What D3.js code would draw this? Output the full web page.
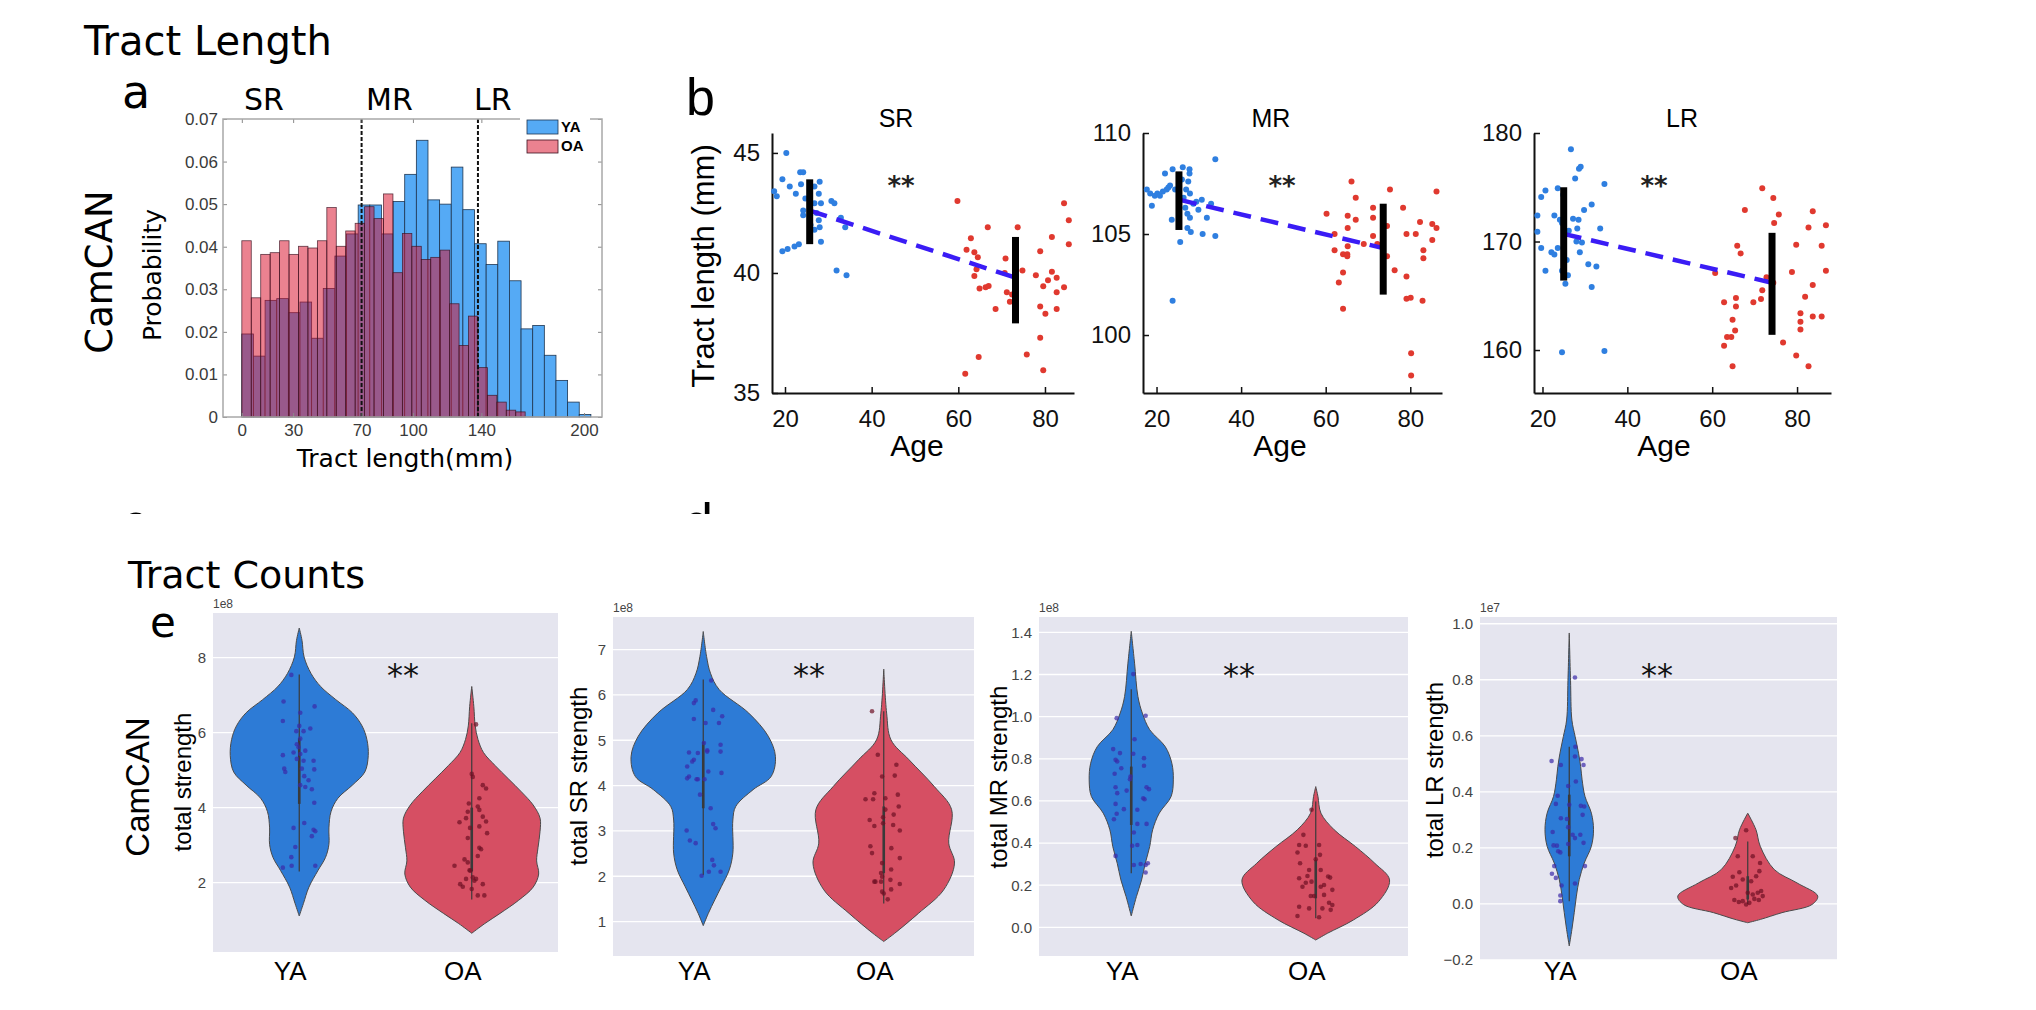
<!DOCTYPE html>
<html>
<head>
<meta charset="utf-8">
<title>Tract Length / Tract Counts</title>
<script src="https://cdn.jsdelivr.net/npm/d3@7"></script>
<style>
  body { margin: 0; background: #fff; }
  svg { display: block; }
</style>
</head>
<body>
<div id="chart"></div>
<script>
// ---------- panel a : tract length histogram ----------
const yaBinEdges = [0, 6.8, 13.6, 20.4, 27.2, 34, 40.8, 47.6, 54.4, 61.2, 68, 74.8, 81.6, 88.4, 95.2, 102,
  108.8, 115.6, 122.4, 129.2, 136, 142.8, 149.6, 156.4, 163.2, 170, 176.8, 183.6, 190.4, 197.2, 204];
const oaBinEdges = [0, 5.52, 11.04, 16.56, 22.08, 27.6, 33.12, 38.64, 44.16, 49.68, 55.2, 60.72, 66.24, 71.76,
  77.28, 82.8, 88.32, 93.84, 99.36, 104.88, 110.4, 115.92, 121.44, 126.96, 132.48, 138, 143.52, 149.04,
  154.56, 160.08, 165.6];
const histYA = [0.0195, 0.0143, 0.0274, 0.0278, 0.0245, 0.0270, 0.0185, 0.0302, 0.0378, 0.0430, 0.0498, 0.0498,
  0.0430, 0.0506, 0.0570, 0.0650, 0.0510, 0.0500, 0.0587, 0.0487, 0.0407, 0.0358, 0.0413, 0.0320, 0.0207,
  0.0215, 0.0145, 0.0086, 0.0035, 0.0006];
const histOA = [0.0414, 0.0280, 0.0382, 0.0386, 0.0414, 0.0382, 0.0401, 0.0397, 0.0414, 0.0492, 0.0401, 0.0437,
  0.0455, 0.0494, 0.0466, 0.0524, 0.0339, 0.0431, 0.0401, 0.0370, 0.0375, 0.0392, 0.0266, 0.0168, 0.0237,
  0.0116, 0.0051, 0.0035, 0.0016, 0.0012];
const histXTicks = [0, 30, 70, 100, 140, 200];
const histYTicks = [0, 0.01, 0.02, 0.03, 0.04, 0.05, 0.06, 0.07];
const tractSplits = [70, 138];

// ---------- panel b : tract length vs age ----------
const ageTicks = [20, 40, 60, 80];
const srTicks = [35, 40, 45];
const mrTicks = [100, 105, 110];
const lrTicks = [160, 170, 180];

const srYA = [[20.3,45.0],[19.4,43.9],[21.1,43.6],[23.5,44.2],[24.2,44.2],[22.5,43.3],[23.7,43.7],[24.7,43.1],
  [24.2,42.6],[24.2,42.4],[26.8,43.6],[28.0,43.8],[27.8,43.3],[28.3,42.9],[27.3,42.5],[27.8,42.2],[28.0,41.9],
  [28.3,41.3],[26.8,41.8],[30.7,43.0],[31.4,42.9],[32.9,42.3],[33.9,41.9],[31.9,40.1],[34.2,39.9],[19.4,40.9],
  [20.6,41.0],[22.2,41.1],[23.2,41.2],[17.5,43.4],[18.1,43.2],[25.8,42.4],[25.9,42.0],[26.8,42.9]];
const srOA = [[59.8,43.0],[62.9,41.45],[61.9,40.97],[63.7,40.86],[64.5,40.65],[66.8,41.9],[64.2,40.15],[63.7,39.87],
  [64.9,39.35],[66.3,39.4],[67.0,39.46],[68.6,38.5],[70.9,40.6],[70.7,40.0],[71.2,39.2],[71.9,38.8],[72.4,39.1],
  [73.7,41.9],[74.8,40.1],[77.9,39.9],[78.9,40.9],[79.6,39.45],[80.7,39.7],[80.1,38.3],[78.9,38.6],[78.9,37.3],
  [75.8,36.6],[64.7,36.5],[61.6,35.8],[79.6,35.95],[81.6,41.5],[81.6,40.05],[82.7,39.8],[82.7,39.2],[82.7,38.5],
  [84.4,42.9],[85.5,42.2],[85.5,41.2],[84.4,39.4]];
const mrYA = [[17.7,107.2],[18.5,107.0],[18.9,106.4],[19.6,106.9],[20.2,107.0],[20.8,106.9],[21.5,107.1],[22.0,108.0],
  [22.4,107.2],[22.8,107.3],[23.2,107.4],[23.6,105.7],[23.8,108.2],[23.8,101.7],[24.4,107.2],[25.6,104.6],
  [26.0,107.7],[26.2,108.3],[26.4,106.8],[26.8,106.3],[27.3,106.0],[27.3,105.3],[27.8,108.2],[27.8,108.0],
  [27.9,107.0],[27.9,105.8],[28.1,105.1],[28.7,106.5],[29.4,106.6],[29.9,106.2],[30.7,106.7],[30.9,105.0],
  [31.9,105.8],[32.9,106.5],[33.9,108.7],[33.9,104.9],[27.5,107.6],[27.0,107.2]];
const mrOA = [[60.2,106.0],[62.1,105.0],[62.1,104.2],[63.1,102.6],[64.1,104.0],[64.1,103.1],[64.1,101.3],[65.1,104.0],
  [65.1,103.9],[65.2,105.9],[65.2,105.3],[65.2,104.4],[66.1,107.6],[67.1,106.8],[67.1,105.7],[69.0,104.5],
  [71.2,106.3],[71.2,105.8],[71.2,104.9],[72.2,104.5],[74.5,105.4],[74.5,103.9],[75.2,107.2],[76.3,103.2],
  [78.3,106.3],[79.1,105.0],[79.1,102.9],[79.1,101.8],[80.1,101.85],[80.2,99.1],[80.2,98.0],[81.3,105.0],
  [82.3,105.6],[82.9,101.7],[83.1,104.2],[83.1,103.8],[85.2,105.5],[85.2,104.7],[86.2,107.1],[86.2,105.3]];
const lrYA = [[18.8,172.4],[18.8,170.9],[19.7,174.1],[19.7,169.4],[20.7,174.7],[20.7,167.3],[22.1,169.0],[22.8,172.4],
  [22.8,168.8],[23.6,174.9],[23.6,169.4],[24.1,172.0],[24.6,171.7],[24.6,167.3],[25.4,166.1],[26.0,166.9],
  [26.7,178.5],[27.2,172.1],[27.7,175.8],[28.0,170.0],[28.2,171.2],[28.5,172.0],[28.6,176.7],[28.8,169.0],
  [29.0,176.9],[29.3,169.9],[29.8,172.9],[30.8,167.9],[31.6,173.4],[31.6,165.8],[32.7,167.7],[33.6,171.2],
  [34.6,175.3],[34.6,159.9],[24.6,159.8],[26.2,171.0],[25.7,168.3],[24.9,174.3]];
const lrOA = [[60.7,167.1],[62.8,164.4],[62.8,160.4],[63.5,161.2],[64.5,161.2],[64.8,162.8],[64.8,158.5],[65.4,161.8],
  [65.6,164.0],[65.6,164.8],[65.9,169.6],[66.7,168.9],[67.7,172.9],[69.7,164.4],[71.5,164.7],[71.8,174.9],
  [71.8,165.5],[72.8,166.7],[74.4,174.0],[74.6,171.7],[75.7,172.5],[76.7,160.7],[78.8,167.2],[79.8,169.7],
  [79.8,159.5],[80.8,163.4],[80.8,162.6],[80.8,161.9],[81.9,164.9],[82.7,171.3],[82.7,158.5],[83.7,172.8],
  [83.7,166.0],[83.7,163.1],[85.8,169.6],[85.8,163.1],[86.8,171.5],[86.8,167.3],[74.4,166.2]];

// group error bars [age, low, high] and the fitted line [[age, value], [age, value]]
const srErr = [[25.7, 41.2, 43.9], [73.2, 37.9, 41.5]];
const mrErr = [[25.3, 105.2, 108.1], [73.6, 102.0, 106.5]];
const lrErr = [[25.0, 166.4, 175.0], [74.1, 161.4, 170.8]];
const srFit = [[25.7, 42.6], [73.2, 39.8]];
const mrFit = [[25.3, 106.7], [73.6, 104.3]];
const lrFit = [[25.0, 170.7], [74.1, 166.2]];

// ---------- panel e : tract counts violins ----------
const groups = ["YA", "OA"];
const countTicks1 = [2, 4, 6, 8];
const countTicks2 = [1, 2, 3, 4, 5, 6, 7];
const countTicks3 = [0, 0.2, 0.4, 0.6, 0.8, 1.0, 1.2, 1.4];
const countTicks4 = [-0.2, 0, 0.2, 0.4, 0.6, 0.8, 1.0];

// density outlines: [value, relative half width]
const v1YA = [[8.79,0],[8.46,0.04],[8.02,0.07],[7.58,0.17],[7.23,0.31],[6.88,0.53],[6.53,0.77],[6.18,0.91],[5.82,0.98],
  [5.39,1.0],[4.95,0.95],[4.60,0.77],[4.25,0.56],[3.89,0.46],[3.46,0.43],[3.02,0.43],[2.67,0.38],[2.32,0.27],
  [1.88,0.14],[1.44,0.06],[1.11,0]];
const v1OA = [[7.23,0],[6.70,0.03],[6.18,0.05],[5.82,0.09],[5.47,0.17],[5.12,0.34],[4.77,0.53],[4.42,0.72],[4.07,0.89],
  [3.72,0.99],[3.37,0.99],[2.93,0.96],[2.58,0.94],[2.23,0.97],[1.88,0.89],[1.53,0.68],[1.18,0.41],[0.91,0.19],[0.65,0]];
const v2YA = [[7.40,0],[6.85,0.046],[6.48,0.10],[6.12,0.22],[5.60,0.63],[5.09,0.90],[4.64,1.0],[4.20,0.94],[3.91,0.69],
  [3.54,0.45],[3.24,0.41],[2.51,0.41],[2.14,0.36],[1.77,0.25],[1.48,0.16],[1.18,0.07],[0.91,0]];
const v2OA = [[6.57,0],[5.60,0.04],[5.01,0.10],[4.57,0.35],[3.98,0.70],[3.47,0.94],[2.73,0.90],[2.29,0.98],[1.70,0.83],
  [1.18,0.48],[0.74,0.15],[0.56,0]];
const v3YA = [[1.405,0],[1.254,0.045],[1.096,0.09],[1.017,0.15],[0.938,0.25],[0.858,0.46],[0.779,0.55],[0.700,0.57],
  [0.621,0.54],[0.542,0.38],[0.463,0.29],[0.383,0.25],[0.304,0.19],[0.225,0.14],[0.146,0.07],[0.054,0]];
const v3OA = [[0.668,0],[0.621,0.03],[0.542,0.07],[0.463,0.25],[0.383,0.54],[0.304,0.80],[0.225,1.0],[0.122,0.85],
  [0.035,0.51],[-0.028,0.16],[-0.060,0]];
const v4YA = [[0.967,0],[0.798,0.018],[0.656,0.037],[0.597,0.083],[0.538,0.13],[0.490,0.16],[0.443,0.18],[0.384,0.22],
  [0.324,0.31],[0.265,0.34],[0.206,0.31],[0.146,0.21],[0.087,0.14],[0.028,0.10],[-0.031,0.07],[-0.091,0.037],[-0.150,0]];
const v4OA = [[0.324,0],[0.265,0.115],[0.206,0.175],[0.123,0.37],[0.075,0.69],[0.028,0.98],[-0.002,0.90],[-0.031,0.48],
  [-0.055,0.18],[-0.067,0]];

// inner box: [whisker low, q1, q3, whisker high]
const box1 = [[2.3, 4.1, 5.85, 7.55], [1.55, 2.3, 4.0, 6.25]];
const box2 = [[2.03, 3.5, 4.97, 6.34], [1.40, 2.07, 3.54, 5.64]];
const box3 = [[0.257, 0.486, 0.763, 1.13], [0.043, 0.138, 0.32, 0.597]];
const box4 = [[0.01, 0.17, 0.39, 0.561], [0.0, 0.016, 0.099, 0.223]];

// subject values: [value, jitter in category units]
const p1YA = [[7.54,-0.046],[6.83,-0.091],[6.31,-0.095],[6.70,0.089],[6.18,0],[6.04,0.025],[6.04,-0.017],[5.84,0.006],
  [6.11,0.064],[5.40,-0.095],[5.25,0.083],[5.02,0.087],[5.04,-0.087],[4.95,-0.081],[5.69,-0.014],[5.61,-0.004],
  [5.52,0.035],[5.43,0.006],[5.30,-0.014],[5.04,0.015],[4.84,0.029],[4.60,0.006],[4.55,0.035],[4.73,0.054],
  [4.49,0.073],[4.13,0.087],[3.59,0.029],[3.46,-0.033],[3.41,0.083],[3.37,0.093],[3.24,0.073],[2.95,-0.023],
  [2.68,-0.046],[2.45,-0.044],[2.40,-0.095],[2.45,0.093],[6.53,0.006],[5.47,-0.033],[5.25,0.025]];
const p1OA = [[6.22,0.025],[4.90,0],[4.82,0.006],[4.60,0.064],[4.51,0.083],[4.11,-0.017],[4.25,0.044],[4.03,0.035],
  [3.94,0.044],[3.89,-0.023],[3.72,-0.033],[3.76,0.064],[3.63,0.083],[3.61,-0.071],[3.50,0.044],[3.32,0.089],
  [3.46,-0.01],[2.93,0.044],[2.89,0.054],[2.71,0.035],[2.62,-0.042],[2.54,-0.023],[2.45,-0.1],[2.33,-0.013],
  [2.32,-0.008],[2.05,0.015],[2.10,0.025],[2.10,-0.033],[1.96,-0.067],[1.89,-0.052],[1.96,0.064],[1.83,0],
  [1.66,0.073],[2.14,0.006],[1.66,0.035],[3.19,-0.023]];
const p2YA = [[6.32,0.044],[5.88,-0.042],[5.82,-0.052],[5.67,0.055],[5.53,0.105],[5.47,-0.052],[5.38,0.013],[5.38,0.087],
  [4.90,0.096],[4.75,0.096],[4.94,0.004],[4.73,-0.079],[4.72,-0.03],[4.78,0.022],[4.57,-0.052],[4.53,-0.061],
  [4.42,-0.089],[4.31,0.028],[4.20,-0.079],[4.16,-0.089],[4.14,-0.03],[4.14,0.007],[4.14,-0.037],[3.80,-0.018],
  [4.28,0.101],[3.50,0.041],[3.15,0.055],[3.06,0.068],[3.01,-0.092],[2.79,-0.074],[2.73,-0.042],[2.36,0.05],
  [2.24,0.059],[2.10,0.031],[2.10,0.096],[2.01,-0.009],[4.75,0.022]];
const p2OA = [[5.64,-0.065],[4.68,-0.033],[4.20,-0.009],[4.22,0.061],[4.46,0.07],[3.70,-0.101],[3.70,-0.059],[3.83,-0.052],
  [3.72,0.009],[3.80,0.078],[3.54,0.083],[3.47,0.009],[3.30,-0.004],[3.36,0.055],[3.24,-0.078],[3.11,-0.052],
  [3.17,-0.004],[3.13,0.052],[3.01,0.089],[2.66,-0.074],[2.51,-0.065],[2.62,0.042],[2.40,0.089],[2.29,-0.009],
  [2.15,0.041],[2.07,-0.015],[1.99,-0.009],[1.88,-0.052],[1.88,-0.015],[1.92,0.037],[1.83,0.089],[1.71,0.041],
  [1.66,-0.009],[1.62,0],[1.49,0.022],[1.88,-0.046]];
const p3YA = [[1.202,0.011],[0.993,-0.079],[1.004,0.078],[0.893,0.018],[0.846,-0.098],[0.827,-0.061],[0.824,0.011],
  [0.795,-0.085],[0.787,-0.076],[0.803,0.069],[0.767,0.069],[0.755,-0.054],[0.716,-0.004],[0.729,-0.09],[0.703,-0.007],
  [0.665,-0.085],[0.649,-0.025],[0.665,0.083],[0.656,0.096],[0.637,-0.076],[0.613,0.065],[0.608,0.072],[0.586,-0.085],
  [0.561,-0.04],[0.558,0.033],[0.513,-0.094],[0.539,-0.079],[0.491,0.083],[0.491,0.033],[0.450,0.014],[0.391,0.033],
  [0.387,0.005],[0.339,-0.085],[0.296,0.014],[0.301,0.051],[0.296,0.078],[0.304,0.09],[0.260,0.078]];
const p3OA = [[0.558,-0.023],[0.439,-0.067],[0.391,-0.09],[0.391,0.018],[0.387,-0.054],[0.344,0.023],[0.355,-0.099],
  [0.323,0],[0.304,-0.085],[0.272,-0.036],[0.272,0.027],[0.244,-0.045],[0.241,0.067],[0.236,0.078],[0.233,-0.09],
  [0.212,-0.054],[0.217,-0.023],[0.193,0.027],[0.201,0.045],[0.193,-0.072],[0.178,0.09],[0.149,-0.009],[0.154,0.045],
  [0.117,0.072],[0.106,0.09],[0.098,-0.09],[0.090,-0.036],[0.090,0.036],[0.083,0.081],[0.054,-0.099],[0.048,0.018],
  [0.149,-0.027]];
const p4YA = [[0.808,0.032],[0.510,-0.099],[0.496,-0.047],[0.526,0.032],[0.517,0.069],[0.561,0.034],[0.496,0.08],
  [0.437,0.037],[0.421,-0.006],[0.386,-0.065],[0.354,0],[0.357,-0.075],[0.350,0.065],[0.348,0.084],[0.318,0.075],
  [0.306,-0.047],[0.303,-0.013],[0.274,-0.006],[0.257,-0.093],[0.247,0.019],[0.247,0.062],[0.235,0.032],[0.208,-0.069],
  [0.209,-0.088],[0.214,-0.006],[0.218,0.08],[0.184,-0.05],[0.188,-0.062],[0.135,-0.084],[0.108,-0.097],[0.135,0.088],
  [0.093,-0.075],[0.073,0.032],[0.066,-0.043],[0.030,-0.05],[0.010,-0.05]];
const p4OA = [[0.263,-0.009],[0.235,-0.069],[0.170,-0.056],[0.170,0.028],[0.146,0.069],[0.113,-0.047],[0.117,0.065],
  [0.097,-0.084],[0.087,-0.028],[0.081,0.019],[0.099,0.047],[0.057,-0.093],[0.066,-0.065],[0.040,0],[0.034,0.028],
  [0.040,0.056],[0.046,0.075],[0.014,-0.075],[0.007,-0.05],[0.010,-0.028],[0.004,0.009],[0.018,0.037],[0.014,0.062],
  [0.028,0.084],[-0.002,-0.009]];

// ---------------------------------------------------------
const W = 2036, H = 1010;
const SANS = "'Liberation Sans', Arial, sans-serif";
const NARROW = "'Liberation Sans Narrow', 'Liberation Sans', Arial, sans-serif";
const DEJA = "'DejaVu Sans', Verdana, sans-serif";

const svg = d3.select("#chart").append("svg")
  .attr("width", W).attr("height", H)
  .attr("viewBox", `0 0 ${W} ${H}`);
svg.append("rect").attr("width", W).attr("height", H).attr("fill", "#fff");

function label(x, y, s, size, family, anchor) {
  return svg.append("text")
    .attr("x", x).attr("y", y)
    .attr("font-size", size).attr("font-family", family)
    .attr("text-anchor", anchor || "start")
    .attr("fill", "#000").text(s);
}
function vlabel(cx, cy, s, size, family) {
  return svg.append("text")
    .attr("transform", `translate(${cx},${cy}) rotate(-90)`)
    .attr("text-anchor", "middle").attr("dominant-baseline", "central")
    .attr("font-size", size).attr("font-family", family)
    .attr("fill", "#000").text(s);
}

// section titles and letters
label(84, 55, "Tract Length", 40, DEJA);
label(128, 588, "Tract Counts", 38, DEJA);
label(122, 108, "a", 46, DEJA);
label(686, 115, "b", 52, SANS);
label(150, 637, "e", 42, DEJA);

// letters c and d, cut off by the panel above
svg.append("clipPath").attr("id", "cut")
  .append("rect").attr("x", 0).attr("y", 0).attr("width", W).attr("height", 514);
label(122, 540, "c", 52, SANS).attr("clip-path", "url(#cut)");
label(684, 540, "d", 52, SANS).attr("clip-path", "url(#cut)");

// ======================= histogram =======================
const hx = d3.scaleLinear().domain([-11, 210.5]).range([223, 602]);
const hy = d3.scaleLinear().domain([0, 0.07]).range([417, 119]);

const hg = svg.append("g");
hg.selectAll("rect.ya")
  .data(histYA.map((v, i) => ({ v, a: yaBinEdges[i], b: yaBinEdges[i + 1] })).filter(d => d.v > 0))
  .join("rect").attr("class", "ya")
  .attr("x", d => hx(d.a)).attr("width", d => hx(d.b) - hx(d.a))
  .attr("y", d => hy(d.v)).attr("height", d => hy(0) - hy(d.v))
  .attr("fill", "#55aaf5").attr("stroke", "#1e3550").attr("stroke-width", 0.8);
hg.selectAll("rect.oa")
  .data(histOA.map((v, i) => ({ v, a: oaBinEdges[i], b: oaBinEdges[i + 1] })).filter(d => d.v > 0))
  .join("rect").attr("class", "oa")
  .attr("x", d => hx(d.a)).attr("width", d => hx(d.b) - hx(d.a))
  .attr("y", d => hy(d.v)).attr("height", d => hy(0) - hy(d.v))
  .attr("fill", "#d8102a").attr("fill-opacity", 0.52)
  .attr("stroke", "#3a1020").attr("stroke-width", 0.8).attr("stroke-opacity", 0.8);

// tract class split lines
hg.selectAll("line.split").data(tractSplits).join("line")
  .attr("x1", d => hx(d)).attr("x2", d => hx(d))
  .attr("y1", hy(0.07)).attr("y2", hy(0))
  .attr("stroke", "#111").attr("stroke-width", 2).attr("stroke-dasharray", "4,2");

// frame and ticks
function greyAxis(sel) {
  sel.select(".domain").remove();
  sel.selectAll(".tick line").attr("stroke", "#8a8a8a");
  sel.selectAll(".tick text").attr("fill", "#3a3a3a");
  sel.attr("font-size", 17).attr("font-family", NARROW);
}
hg.append("g").attr("transform", "translate(223,0)")
  .call(d3.axisLeft(hy).tickValues(histYTicks).tickSizeInner(-4).tickSizeOuter(0).tickPadding(5)
    .tickFormat(d => d === 0 ? "0" : d3.format(".2f")(d)))
  .call(greyAxis);
hg.append("g").attr("transform", "translate(602,0)")
  .call(d3.axisRight(hy).tickValues(histYTicks).tickSizeInner(-4).tickSizeOuter(0).tickFormat(""))
  .call(greyAxis);
hg.append("g").attr("transform", "translate(0,417)")
  .call(d3.axisBottom(hx).tickValues(histXTicks).tickSizeInner(-4).tickSizeOuter(0).tickPadding(7))
  .call(greyAxis);
hg.append("g").attr("transform", "translate(0,119)")
  .call(d3.axisTop(hx).tickValues(histXTicks).tickSizeInner(-4).tickSizeOuter(0).tickFormat(""))
  .call(greyAxis);
hg.append("rect").attr("x", 223).attr("y", 119).attr("width", 379).attr("height", 298)
  .attr("fill", "none").attr("stroke", "#a8a8a8").attr("stroke-width", 1.5);

// legend
hg.append("rect").attr("x", 520).attr("y", 116).attr("width", 70).attr("height", 40).attr("fill", "#fff");
hg.append("rect").attr("x", 527).attr("y", 120).attr("width", 31).attr("height", 14)
  .attr("fill", "#55aaf5").attr("stroke", "#1e3550").attr("stroke-width", 0.8);
hg.append("rect").attr("x", 527).attr("y", 140).attr("width", 31).attr("height", 13)
  .attr("fill", "#d8102a").attr("fill-opacity", 0.52).attr("stroke", "#3a1020").attr("stroke-width", 0.8);
label(561, 132, "YA", 15, SANS).attr("font-weight", "bold");
label(561, 151, "OA", 15, SANS).attr("font-weight", "bold");

// class names above
[["SR", 244], ["MR", 366], ["LR", 474]].forEach(([t, x]) => label(x, 110, t, 30, DEJA));
label(405, 467, "Tract length(mm)", 25, DEJA, "middle");
vlabel(152, 275, "Probability", 25, DEJA);
vlabel(99, 272, "CamCAN", 37, DEJA);

// ======================= scatter panels =======================
const scatterPanels = [
  { title: "SR", x0: 772, x1: 1074, xDom: [17, 86.7], yDom: [35, 45.83], ticks: srTicks,
    ya: srYA, oa: srOA, err: srErr, fit: srFit, titleX: 896, starX: 901, ageX: 917 },
  { title: "MR", x0: 1143, x1: 1442, xDom: [16.8, 87.5], yDom: [97.13, 110], ticks: mrTicks,
    ya: mrYA, oa: mrOA, err: mrErr, fit: mrFit, titleX: 1271, starX: 1282, ageX: 1280 },
  { title: "LR", x0: 1534, x1: 1831, xDom: [18, 88], yDom: [156.04, 180], ticks: lrTicks,
    ya: lrYA, oa: lrOA, err: lrErr, fit: lrFit, titleX: 1682, starX: 1654, ageX: 1664 }
];

function blackAxis(sel) {
  sel.select(".domain").attr("stroke", "#111").attr("stroke-width", 2);
  sel.selectAll(".tick line").attr("stroke", "#111").attr("stroke-width", 1.5);
  sel.selectAll(".tick text").attr("fill", "#111");
  sel.attr("font-size", 24).attr("font-family", NARROW);
}

scatterPanels.forEach(p => {
  const x = d3.scaleLinear().domain(p.xDom).range([p.x0, p.x1]);
  const y = d3.scaleLinear().domain(p.yDom).range([393, 133]);
  const g = svg.append("g");

  g.append("g").attr("transform", "translate(0,393)")
    .call(d3.axisBottom(x).tickValues(ageTicks).tickSizeInner(-6).tickSizeOuter(0).tickPadding(17))
    .call(blackAxis);
  g.append("g").attr("transform", `translate(${p.x0},0)`)
    .call(d3.axisLeft(y).tickValues(p.ticks).tickSizeInner(-6).tickSizeOuter(0).tickPadding(12))
    .call(blackAxis);

  g.selectAll("circle.ya").data(p.ya).join("circle")
    .attr("cx", d => x(d[0])).attr("cy", d => y(d[1])).attr("r", 3).attr("fill", "#2f7fe0");
  g.selectAll("circle.oa").data(p.oa).join("circle")
    .attr("cx", d => x(d[0])).attr("cy", d => y(d[1])).attr("r", 3).attr("fill", "#e0392f");

  g.append("path").datum(p.fit)
    .attr("d", d3.line().x(d => x(d[0])).y(d => y(d[1])))
    .attr("stroke", "#3a1cf5").attr("stroke-width", 4.5).attr("stroke-dasharray", "18,10")
    .attr("fill", "none");

  g.selectAll("line.err").data(p.err).join("line")
    .attr("x1", d => x(d[0])).attr("x2", d => x(d[0]))
    .attr("y1", d => y(d[1])).attr("y2", d => y(d[2]))
    .attr("stroke", "#000").attr("stroke-width", 7);

  label(p.titleX, 127, p.title, 25, SANS, "middle");
  label(p.starX, 195, "**", 26, DEJA, "middle").attr("font-weight", "bold").attr("fill", "#222");
  label(p.ageX, 456, "Age", 30, SANS, "middle");
});
vlabel(703, 266, "Tract length (mm)", 31, SANS);

// ======================= violin panels =======================
const violinPanels = [
  { x0: 213, x1: 558, y0: 613, y1: 952, yDom: [0.15, 9.19], ticks: countTicks1, fmt: d3.format("d"), exp: "1e8",
    shapes: [v1YA, v1OA], boxes: box1, pts: [p1YA, p1OA], ylab: "total strength", ylabX: 182, ylabY: 782, starX: 403 },
  { x0: 613, x1: 974, y0: 617, y1: 956, yDom: [0.24, 7.72], ticks: countTicks2, fmt: d3.format("d"), exp: "1e8",
    shapes: [v2YA, v2OA], boxes: box2, pts: [p2YA, p2OA], ylab: "total SR strength", ylabX: 578, ylabY: 776, starX: 809 },
  { x0: 1039, x1: 1408, y0: 617, y1: 956, yDom: [-0.136, 1.473], ticks: countTicks3, fmt: d3.format(".1f"), exp: "1e8",
    shapes: [v3YA, v3OA], boxes: box3, pts: [p3YA, p3OA], ylab: "total MR strength", ylabX: 998, ylabY: 777, starX: 1239 },
  { x0: 1480, x1: 1837, y0: 617, y1: 960, yDom: [-0.2, 1.024], ticks: countTicks4, fmt: d3.format(".1f"), exp: "1e7",
    shapes: [v4YA, v4OA], boxes: box4, pts: [p4YA, p4OA], ylab: "total LR strength", ylabX: 1434, ylabY: 770, starX: 1657 }
];
const violinFill = ["#2d7bd6", "#d64f63"];
const dotFill = ["#3a2aa8", "#6e1024"];

violinPanels.forEach(p => {
  const y = d3.scaleLinear().domain(p.yDom).range([p.y1, p.y0]);
  const xb = d3.scaleBand().domain(groups).range([p.x0, p.x1]);
  const bw = xb.bandwidth();
  const maxHalf = bw * 0.4;
  const g = svg.append("g");

  g.append("rect").attr("x", p.x0).attr("y", p.y0)
    .attr("width", p.x1 - p.x0).attr("height", p.y1 - p.y0).attr("fill", "#e5e5ef");
  g.selectAll("line.grid").data(p.ticks).join("line")
    .attr("x1", p.x0).attr("x2", p.x1).attr("y1", d => y(d)).attr("y2", d => y(d))
    .attr("stroke", "#fff").attr("stroke-width", 1.3);
  const ax = g.append("g").attr("transform", `translate(${p.x0},0)`)
    .call(d3.axisLeft(y).tickValues(p.ticks).tickSize(0).tickPadding(7).tickFormat(p.fmt));
  ax.select(".domain").remove();
  ax.attr("font-size", 15).attr("font-family", NARROW);
  ax.selectAll("text").attr("fill", "#444");
  label(p.x0, p.y0 - 5, p.exp, 12, NARROW).attr("fill", "#444");

  groups.forEach((grp, gi) => {
    const cx = xb(grp) + bw / 2;
    const area = d3.area()
      .y(d => y(d[0]))
      .x0(d => cx - d[1] * maxHalf)
      .x1(d => cx + d[1] * maxHalf)
      .curve(d3.curveCatmullRom);
    g.append("path").datum(p.shapes[gi]).attr("d", area)
      .attr("fill", violinFill[gi]).attr("stroke", "#4a4a4a").attr("stroke-width", 1);

    const b = p.boxes[gi];
    g.append("line").attr("x1", cx).attr("x2", cx).attr("y1", y(b[0])).attr("y2", y(b[3]))
      .attr("stroke", "#3a3a3a").attr("stroke-width", 1.2);
    g.append("line").attr("x1", cx).attr("x2", cx).attr("y1", y(b[1])).attr("y2", y(b[2]))
      .attr("stroke", "#3a3a3a").attr("stroke-width", 2.6);

    g.selectAll(`circle.g${gi}`).data(p.pts[gi]).join("circle")
      .attr("cx", d => cx + d[1] * bw).attr("cy", d => y(d[0])).attr("r", 2.3)
      .attr("fill", dotFill[gi]).attr("fill-opacity", 0.7);

    label(cx - 9, 980, grp, 26, SANS, "middle");
  });

  label(p.starX, 686, "**", 32, DEJA, "middle").attr("fill", "#111");
  vlabel(p.ylabX, p.ylabY, p.ylab, 24, SANS);
});
vlabel(137, 787, "CamCAN", 33, SANS);
</script>
</body>
</html>
